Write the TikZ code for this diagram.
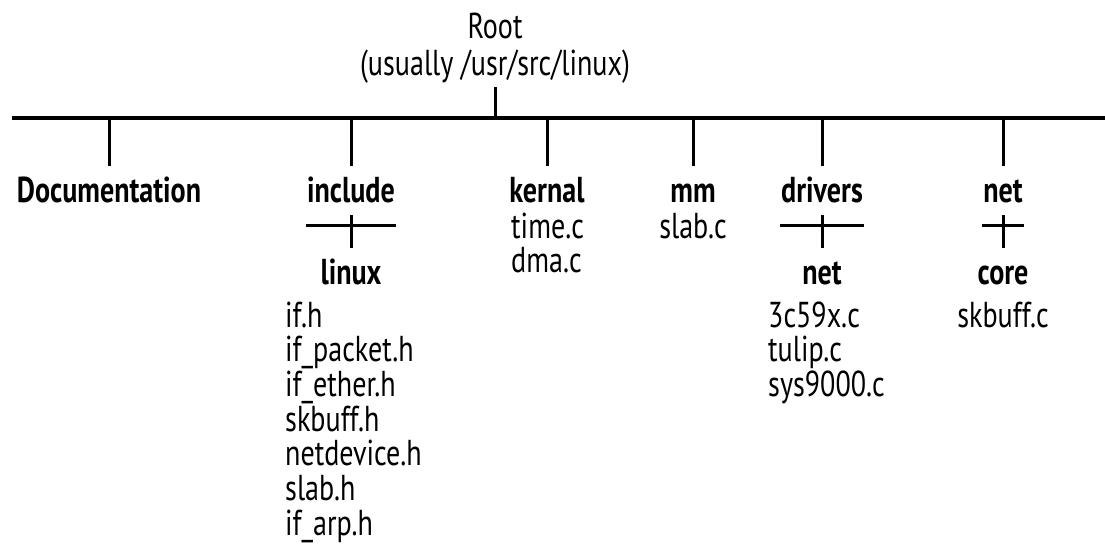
\documentclass[tikz,border=0pt]{standalone}
\usepackage{fontspec}
\setmainfont{PT Sans}[FakeStretch=0.78]
\usetikzlibrary{calc}
\begin{document}
\begin{tikzpicture}[x=1pt,y=-1pt,
  lbl/.style={inner sep=0pt, anchor=base, text height=21pt, text depth=7pt, font=\fontsize{36}{40}\selectfont},
  hd/.style={lbl, font=\fontsize{36}{40}\selectfont\bfseries},
  filel/.style={lbl, anchor=base west},
  busline/.style={line width=3.6pt},
  tickline/.style={line width=3pt}]
\useasboundingbox[fill=white] (0,0) rectangle (1105,544);
% root
\node[lbl] (root) at (495,38) {Root};
\node[lbl] (rootsub) at (495,75) {(usually /usr/src/linux)};
\coordinate (busL) at (12,118);
\coordinate (busR) at (1105,118);
\draw[busline] (busL) -- (busR);
\draw[tickline] ([yshift=-5pt]rootsub.south) -- (rootsub |- busL);
% top-level directories
\node[hd] (doc) at (109,202) {Documentation};
\node[hd] (inc) at (351,202) {include};
\node[hd] (ker) at (547,202) {kernal};
\node[hd] (mm)  at (693,202) {mm};
\node[hd] (drv) at (822,202) {drivers};
\node[hd] (net) at (1003,202) {net};
\foreach \n in {doc,inc,ker,mm,drv,net}
  \draw[tickline] (\n |- busL) -- ([yshift=15pt]\n.north);
% sub directories
\node[hd] (lin)  at (351,284) {linux};
\node[hd] (dnet) at (822,284) {net};
\node[hd] (core) at (1003,284) {core};
\foreach \a/\b/\w in {inc/lin/45, drv/dnet/42, net/core/21} {
  \draw[tickline] ([yshift=-6pt]\a.south) -- ([yshift=15pt]\b.north);
  \draw[tickline] ([xshift=-\w pt,yshift=-16pt]\a.south) -- ([xshift=\w pt,yshift=-16pt]\a.south);
}
% files
\node[filel] (kf1) at (511,238) {time.c};
\node[filel] (kf2) at (511,272.5) {dma.c};
\node[lbl] (mf1) at (693,238) {slab.c};
\foreach \t [count=\i from 0] in {if.h, if\_packet.h, if\_ether.h, skbuff.h, netdevice.h, slab.h, if\_arp.h}
  \node[filel] (if\i) at (285,327+34.7*\i) {\t};
\foreach \t [count=\i from 0] in {3c59x.c, tulip.c, sys9000.c}
  \node[filel] (df\i) at (768,327+34.7*\i) {\t};
\node[lbl] (cf1) at (1003,327) {skbuff.c};
\end{tikzpicture}
\end{document}
